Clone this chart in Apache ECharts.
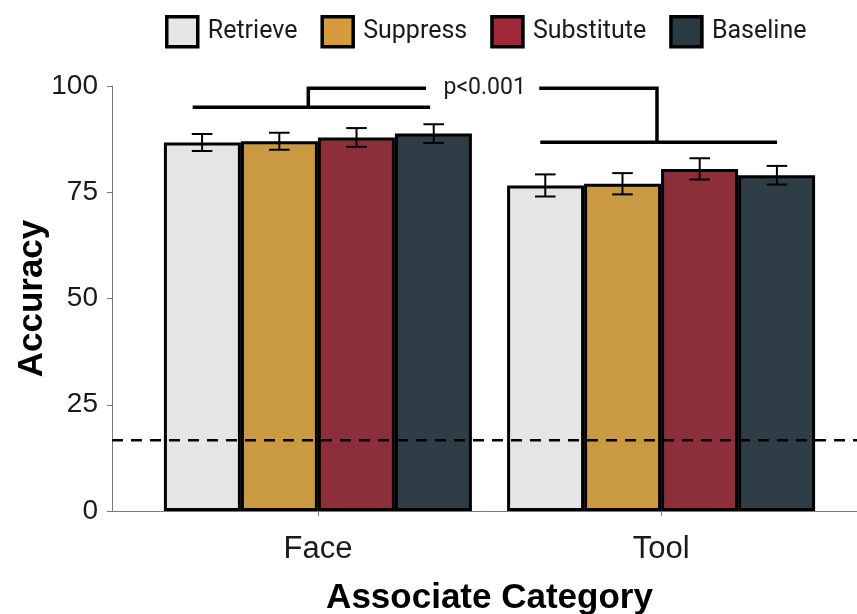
<!DOCTYPE html>
<html>
<head>
<meta charset="utf-8">
<script src="https://cdn.jsdelivr.net/npm/echarts@6/dist/echarts.min.js"></script>
<style>html,body{margin:0;padding:0;background:#fff}#c{width:857px;height:614px}</style>
</head>
<body>
<div id="c"></div>
<script>
const categories = ['Face', 'Tool'];
const seriesNames = ['Retrieve', 'Suppress', 'Substitute', 'Baseline'];
const retrieveVals = [86.7, 76.6];
const suppressVals = [87.0, 77.0];
const substituteVals = [87.9, 80.5];
const baselineVals = [88.8, 79.0];
const retrieveErr = [2.0, 2.6];
const suppressErr = [2.0, 2.5];
const substituteErr = [2.2, 2.5];
const baselineErr = [2.2, 2.2];
const yTicks = [0, 25, 50, 75, 100];
const chanceLevel = 16.67;
const sigLabel = 'p<0.001';
// significance bracket segments in data units [x, y]
const bracketFaceLower = [[0.635, 95.0], [1.327, 95.0]];
const bracketFaceUpper = [[0.972, 95.0], [0.972, 99.45], [1.315, 99.45]];
const bracketToolUpper = [[1.645, 99.45], [1.988, 99.45], [1.988, 86.74]];
const bracketToolLower = [[1.648, 86.74], [2.338, 86.74]];
const sigLabelPos = [1.486, 99.45];

const barColors = ['#e5e5e5', '#c99a42', '#8c2f3b', '#2f3d47'];
const legendColors = ['#e6e6e6', '#d79a3c', '#a0283a', '#2a3a42'];
const allVals = [retrieveVals, suppressVals, substituteVals, baselineVals];
const allErr = [retrieveErr, suppressErr, substituteErr, baselineErr];

const groupWidth = 0.9;
const nS = seriesNames.length;
const barW = groupWidth / nS;

const chart = echarts.init(document.getElementById('c'));

const barSeries = seriesNames.map((name, s) => ({
  name: name,
  type: 'bar',
  barWidth: 77,
  barGap: '0%',
  data: allVals[s].map((v, g) => [g + 1, v]),
  itemStyle: { color: barColors[s], borderColor: '#000', borderWidth: 3 },
  z: 2
}));

const errData = [];
seriesNames.forEach((name, s) => {
  categories.forEach((c, g) => {
    const x = (g + 1) + (s - (nS - 1) / 2) * barW;
    errData.push([x, allVals[s][g] - allErr[s][g], allVals[s][g] + allErr[s][g]]);
  });
});

const capHalf = 0.03;

const option = {
  animation: false,
  backgroundColor: '#fff',
  grid: { left: 112, top: 86, width: 755, height: 425, containLabel: false, outerBoundsMode: 'none' },
  legend: {
    left: 160, top: 10,
    itemWidth: 31, itemHeight: 30, itemGap: 23,
    icon: 'rect',
    itemStyle: { borderColor: '#000', borderWidth: 3.5 },
    textStyle: { fontFamily: 'Roboto', fontSize: 25, color: '#1a1a1a', padding: [0, 0, 0, 5] },
    data: seriesNames.map((n, i) => ({ name: n, itemStyle: { color: legendColors[i] } }))
  },
  xAxis: {
    type: 'value', min: 0.4, max: 2.6,
    name: 'Associate Category', nameLocation: 'middle', nameGap: 70, nameMoveOverlap: false,
    nameTextStyle: { fontFamily: 'Liberation Sans', fontWeight: 'bold', fontSize: 35, color: '#000' },
    axisLine: { show: true, lineStyle: { color: '#777', width: 1 } },
    axisTick: { show: true, customValues: [1, 2], length: 5, lineStyle: { color: '#777' } },
    axisLabel: {
      customValues: [1, 2], margin: 23,
      formatter: v => categories[Math.round(v) - 1],
      fontFamily: 'Liberation Sans', fontSize: 31, color: '#1a1a1a'
    },
    splitLine: { show: false }
  },
  yAxis: {
    type: 'value', min: 0, max: 100, interval: 25,
    name: 'Accuracy', nameLocation: 'middle', nameRotate: 90, nameGap: 62, nameMoveOverlap: false,
    nameTextStyle: { fontFamily: 'Liberation Sans', fontWeight: 'bold', fontSize: 35, color: '#000' },
    axisLine: { show: true, lineStyle: { color: '#777', width: 1 } },
    axisTick: { show: true, length: 5, lineStyle: { color: '#777' } },
    axisLabel: {
      margin: 14, fontFamily: 'Liberation Sans', fontSize: 28, color: '#1a1a1a',
      formatter: v => (yTicks.indexOf(v) >= 0 ? String(v) : '')
    },
    splitLine: { show: false }
  },
  series: barSeries.concat([
    {
      name: 'chance', type: 'line', z: 5, silent: true,
      data: [[0.4, chanceLevel], [2.6, chanceLevel]],
      symbol: 'none',
      lineStyle: { color: '#000', width: 2.5, type: [11, 8] }
    },
    {
      name: 'err', type: 'custom', z: 6, silent: true,
      data: errData,
      renderItem: function (params, api) {
        const x = api.value(0), lo = api.value(1), hi = api.value(2);
        const pLo = api.coord([x, lo]), pHi = api.coord([x, hi]);
        const pL = api.coord([x - capHalf, lo]), pR = api.coord([x + capHalf, lo]);
        const hw = (pR[0] - pL[0]) / 2;
        const st = { stroke: '#000', lineWidth: 2 };
        return {
          type: 'group',
          children: [
            { type: 'line', shape: { x1: pLo[0], y1: pLo[1], x2: pHi[0], y2: pHi[1] }, style: st },
            { type: 'line', shape: { x1: pLo[0] - hw, y1: pLo[1], x2: pLo[0] + hw, y2: pLo[1] }, style: st },
            { type: 'line', shape: { x1: pHi[0] - hw, y1: pHi[1], x2: pHi[0] + hw, y2: pHi[1] }, style: st }
          ]
        };
      }
    },
    {
      name: 'brackets', type: 'custom', z: 6, silent: true, clip: false,
      data: [0, 1, 2, 3],
      renderItem: function (params, api) {
        const segs = [bracketFaceLower, bracketFaceUpper, bracketToolUpper, bracketToolLower];
        const pts = segs[params.dataIndex].map(p => api.coord(p));
        return { type: 'polyline', shape: { points: pts }, style: { stroke: '#000', lineWidth: 3.5, fill: null } };
      }
    },
    {
      name: 'sig', type: 'custom', z: 7, silent: true, clip: false,
      data: [sigLabelPos],
      renderItem: function (params, api) {
        const p = api.coord([api.value(0), api.value(1)]);
        return {
          type: 'text', x: p[0], y: p[1],
          style: { text: sigLabel, fontFamily: 'Roboto', fontSize: 23, fill: '#1a1a1a', align: 'center', verticalAlign: 'middle' }
        };
      }
    }
  ])
};
chart.setOption(option);
</script>
</body>
</html>
